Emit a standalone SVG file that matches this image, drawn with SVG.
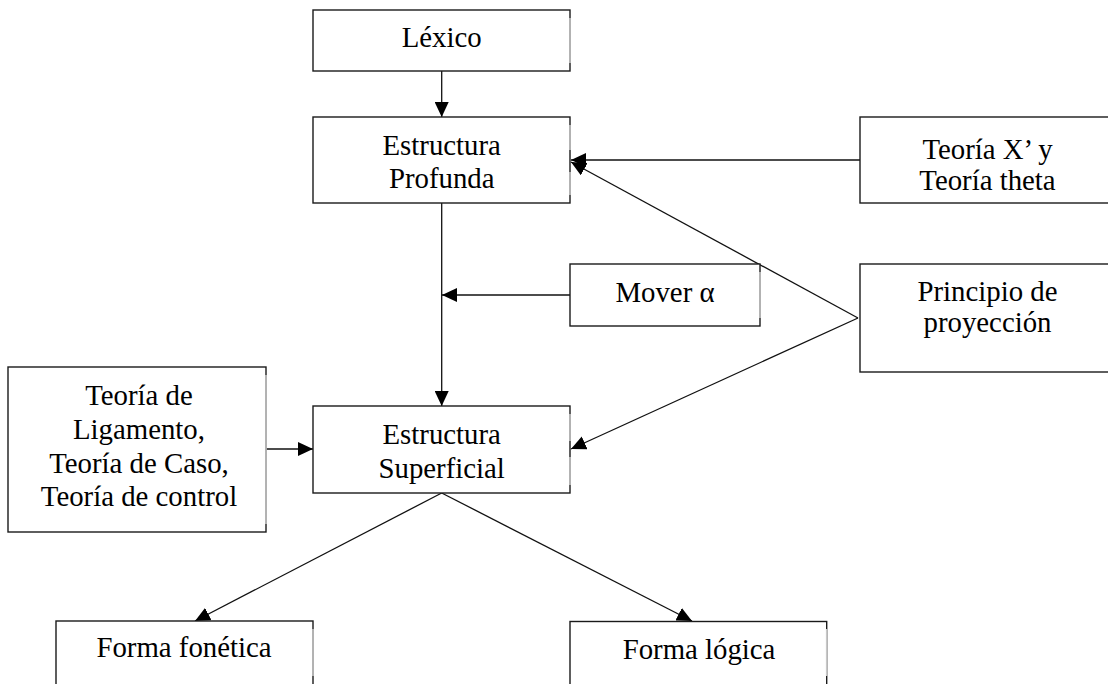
<svg xmlns="http://www.w3.org/2000/svg" width="1108" height="684" viewBox="0 0 1108 684">
  <style>
    .box { fill: #ffffff; stroke: #1a1a1a; stroke-width: 1.4; }
    .edge { stroke: #c8c8c8; stroke-width: 1.6; }
    .lbl { font-family: "Liberation Serif", "Times New Roman", serif; font-size: 28.8px; fill: #000000; text-anchor: middle; }
    .conn { fill: none; stroke: #111111; stroke-width: 1.3; }
  </style>
  <defs>
    <marker id="arrow" markerUnits="userSpaceOnUse" markerWidth="16" markerHeight="14" refX="15" refY="7" orient="auto">
      <path d="M0,0 L15,7 L0,14 z" fill="#000000"/>
    </marker>
  </defs>
  <rect width="1108" height="684" fill="#ffffff"/>

  <!-- connectors -->
  <g id="connectors">
    <path class="conn" d="M441.7,71 V117" marker-end="url(#arrow)"/>
    <path class="conn" d="M860,160 H571" marker-end="url(#arrow)"/>
    <path class="conn" d="M858,318 L571,162" marker-end="url(#arrow)"/>
    <path class="conn" d="M858,318 L571,449" marker-end="url(#arrow)"/>
    <path class="conn" d="M570,295 H442" marker-end="url(#arrow)"/>
    <path class="conn" d="M441.7,203 V406" marker-end="url(#arrow)"/>
    <path class="conn" d="M266,449 H313" marker-end="url(#arrow)"/>
    <path class="conn" d="M441.7,493 L195,621" marker-end="url(#arrow)"/>
    <path class="conn" d="M441.7,493 L692,621" marker-end="url(#arrow)"/>
  </g>

  <!-- nodes -->
  <g id="lexico">
    <rect class="box" x="313" y="10" width="257" height="61"/>
    <line class="edge" x1="570" y1="18" x2="570" y2="63"/>
    <text class="lbl" x="441.7" y="47">Léxico</text>
  </g>

  <g id="estructura-profunda">
    <rect class="box" x="313" y="117" width="257" height="86"/>
    <line class="edge" x1="570" y1="125" x2="570" y2="150"/>
    <line class="edge" x1="570" y1="172" x2="570" y2="195"/>
    <text class="lbl" x="441.7" y="155">Estructura</text>
    <text class="lbl" x="441.7" y="188">Profunda</text>
  </g>

  <g id="teoria-x-theta">
    <rect class="box" x="860" y="117" width="260" height="86"/>
    <text class="lbl" x="987.5" y="159">Teoría X’ y</text>
    <text class="lbl" x="987.5" y="190">Teoría theta</text>
  </g>

  <g id="mover-alfa">
    <rect class="box" x="570" y="264" width="190" height="62"/>
    <line class="edge" x1="760" y1="272" x2="760" y2="318"/>
    <text class="lbl" x="665" y="302">Mover α</text>
  </g>

  <g id="principio-proyeccion">
    <rect class="box" x="860" y="264" width="260" height="108"/>
    <text class="lbl" x="987.5" y="301">Principio de</text>
    <text class="lbl" x="987.5" y="332">proyección</text>
  </g>

  <g id="teorias-ligamento">
    <rect class="box" x="8" y="367" width="258" height="165"/>
    <line class="edge" x1="266" y1="375" x2="266" y2="524"/>
    <text class="lbl" x="139" y="405">Teoría de</text>
    <text class="lbl" x="139" y="438.5">Ligamento,</text>
    <text class="lbl" x="139" y="472.5">Teoría de Caso,</text>
    <text class="lbl" x="139" y="506">Teoría de control</text>
  </g>

  <g id="estructura-superficial">
    <rect class="box" x="313" y="406" width="257" height="87"/>
    <line class="edge" x1="570" y1="414" x2="570" y2="441"/>
    <line class="edge" x1="570" y1="457" x2="570" y2="485"/>
    <text class="lbl" x="441.7" y="444">Estructura</text>
    <text class="lbl" x="441.7" y="477.5">Superficial</text>
  </g>

  <g id="forma-fonetica">
    <rect class="box" x="56" y="621" width="257" height="80"/>
    <line class="edge" x1="313" y1="629" x2="313" y2="676"/>
    <text class="lbl" x="184" y="657">Forma fonética</text>
  </g>

  <g id="forma-logica">
    <rect class="box" x="570" y="621.5" width="256.7" height="80"/>
    <line class="edge" x1="826.7" y1="629" x2="826.7" y2="676"/>
    <text class="lbl" x="699" y="659">Forma lógica</text>
  </g>
</svg>
